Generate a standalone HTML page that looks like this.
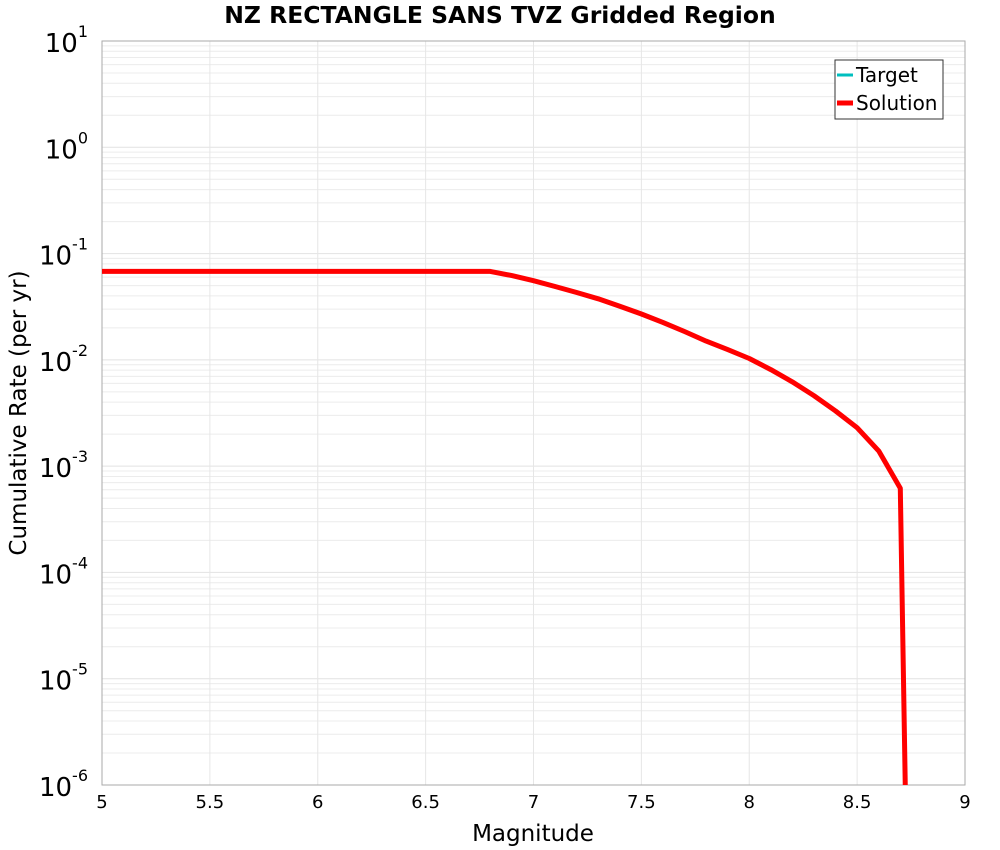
<!DOCTYPE html>
<html><head><meta charset="utf-8"><style>
html,body{margin:0;padding:0;background:#fff;overflow:hidden;width:1000px;height:850px;}
svg{display:block;}
svg text{font-family:"DejaVu Sans","Liberation Sans",sans-serif;}
</style></head><body>
<svg id="chart" width="1000" height="850" xmlns="http://www.w3.org/2000/svg">
<text x="500" y="23" text-anchor="middle" font-size="23.5" font-weight="bold">NZ RECTANGLE SANS TVZ Gridded Region</text>
<g id="grid"></g>
<g id="ticks"></g>
<rect x="102" y="41" width="863" height="744" fill="none" stroke="#aaa" stroke-width="1"/>
<clipPath id="clip"><rect x="102" y="41" width="863" height="744"/></clipPath>
<g id="series" clip-path="url(#clip)"></g>
<text x="533" y="841" text-anchor="middle" font-size="23">Magnitude</text>
<text transform="translate(26,413) rotate(-90)" text-anchor="middle" font-size="23">Cumulative Rate (per yr)</text>
<g>
<rect x="835" y="60" width="108" height="59" fill="#fff" stroke="#333" stroke-width="1"/>
<line x1="837" y1="75" x2="853" y2="75" stroke="#00bfbf" stroke-width="3"/>
<text x="856" y="82" font-size="20">Target</text>
<line x1="837" y1="103" x2="853" y2="103" stroke="#f00" stroke-width="5"/>
<text x="856" y="110" font-size="20">Solution</text>
</g>
</svg>
<script>
const magnitudes=[5.0,6.8,6.9,7.0,7.1,7.2,7.3,7.4,7.5,7.6,7.7,7.8,7.9,8.0,8.1,8.2,8.3,8.4,8.5,8.6,8.7,8.8];
const solutionRates=[0.068,0.068,0.062,0.0555,0.049,0.043,0.0375,0.032,0.027,0.0225,0.0185,0.015,0.0125,0.0103,0.0081,0.0062,0.0046,0.0033,0.0023,0.00139,0.00062,4e-16];
const xTicks=[5,5.5,6,6.5,7,7.5,8,8.5,9];
const yExps=[1,0,-1,-2,-3,-4,-5,-6];
const NS="http://www.w3.org/2000/svg";
const X0=102,X1=965,Y0=41,Y1=785;
function xs(v){return X0+(v-5)/4*(X1-X0);}
function ys(v){return Y0+(1-Math.log10(v))/7*(Y1-Y0);}
function mk(tag,attrs,parent){const e=document.createElementNS(NS,tag);for(const k in attrs)e.setAttribute(k,attrs[k]);parent.appendChild(e);return e;}
const grid=document.getElementById('grid'),ticks=document.getElementById('ticks'),series=document.getElementById('series');
for(let e=-6;e<1;e++){for(let m=1;m<10;m++){const y=ys(m*Math.pow(10,e));
const l=mk('line',{x1:X0,x2:X1,y1:y,y2:y,stroke:m==1?'#e2e2e2':'#ececec','stroke-width':1},grid);

}}
xTicks.forEach(t=>{const x=xs(t);
const l=mk('line',{x1:x,x2:x,y1:Y0,y2:Y1,stroke:'#e6e6e6','stroke-width':1},grid);


const tx=mk('text',{x:x,y:808,'text-anchor':'middle','font-size':18},ticks);
tx.textContent=String(t);

});
yExps.forEach(e=>{const y=ys(Math.pow(10,e));
const tx=mk('text',{x:88,y:y+11,'text-anchor':'end','font-size':26},ticks);


tx.textContent='10';
const sp=mk('tspan',{dy:-15,'font-size':16},tx);sp.textContent=String(e);});
const pts=magnitudes.map((m,i)=>xs(m).toFixed(1)+','+ys(solutionRates[i]).toFixed(1)).join(' ');
const pl=mk('polyline',{points:pts,fill:'none',stroke:'#f00','stroke-width':5,'stroke-linejoin':'round'},series);


</script>
</body></html>
